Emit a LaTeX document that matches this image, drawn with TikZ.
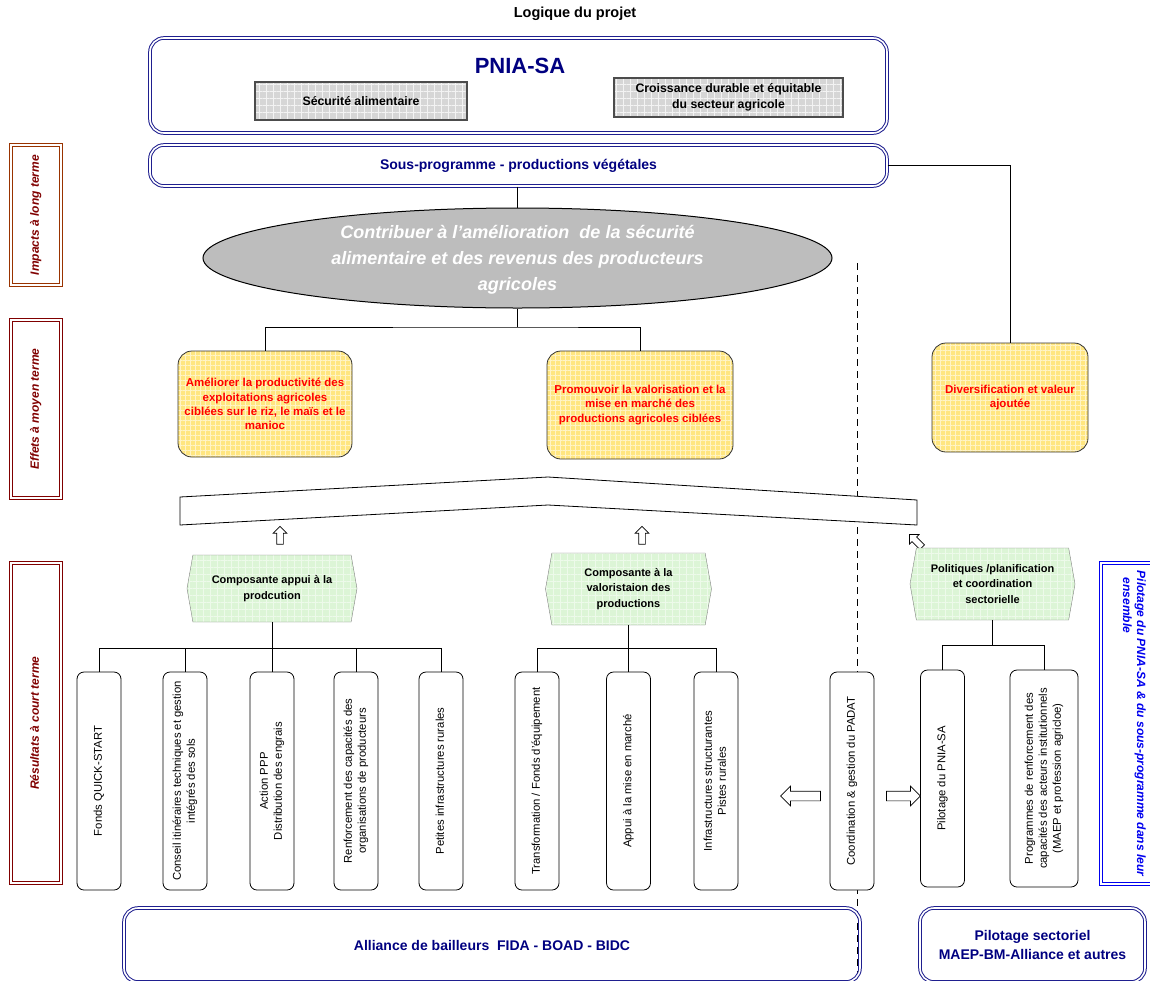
\documentclass[tikz,border=0pt]{standalone}
\usepackage{fontspec}
\setmainfont{Liberation Sans}
\usepackage{tikz}
\usetikzlibrary{shapes.geometric,shapes.symbols,shapes.arrows,patterns,patterns.meta}
\definecolor{pnavy}{HTML}{000080}
\definecolor{frameblue}{HTML}{1F1F8F}
\definecolor{sidered}{HTML}{800000}
\definecolor{sidebrown}{HTML}{993300}
\definecolor{pilblue}{HTML}{0000EE}
\definecolor{gridgray}{HTML}{D6D6D6}
\definecolor{goalgray}{HTML}{BDBDBD}
\definecolor{ylw}{HTML}{FFE680}
\definecolor{mint}{HTML}{DCF5D6}
\newcommand\fsz[2]{\fontsize{#1}{#2}\selectfont}
\newcommand\vtxt[2][90]{\rotatebox{#1}{\begin{tabular}{@{}c@{}}#2\end{tabular}}}

\begin{document}
\begin{tikzpicture}[x=1pt,y=-1pt,
 pbox/.style={draw=frameblue,double=white,double distance=1.6pt,line width=1pt,
 rounded corners=14pt,inner sep=0pt,align=center,text=pnavy,font=\fsz{14}{19}\bfseries},
 gbox/.style={draw=gray!60!black,line width=1.3pt,preaction={fill=gridgray},
 pattern={Hatch[distance=7pt,angle=0,line width=.5pt]},pattern color=white!70!gridgray,
 align=center,inner sep=0pt,font=\fsz{12.3}{16}\bfseries},
 goalshape/.style={ellipse,draw,line width=1pt,fill=goalgray,inner sep=0pt},
 goaltxt/.style={align=center,text=white,font=\fsz{18}{26}\bfseries\itshape},
 ybox/.style={draw=black!80,line width=.8pt,rounded corners=14pt,preaction={fill=ylw},
 pattern={Hatch[distance=5pt,angle=0,line width=.6pt]},pattern color=white!55!ylw,
 align=center,text=red,inner sep=0pt,font=\fsz{11.5}{14.3}\bfseries},
 cbox/.style={signal,signal to=west and east,signal pointer angle=160,draw=gray,
 preaction={fill=mint},pattern={Hatch[distance=7pt,angle=0,line width=.5pt]},
 pattern color=white!50!mint,align=center,inner sep=0pt,font=\fsz{11}{15.5}\bfseries},
 tallbox/.style={draw,line width=.8pt,rounded corners=7pt,fill=white,minimum width=44pt,
 minimum height=218pt,inner sep=0pt,font=\fsz{11.3}{14}},
 sidebox/.style={draw=sidered,double=white,double distance=1.6pt,line width=1pt,
 minimum width=50pt,inner sep=0pt,text=sidered,font=\fsz{12}{14}\bfseries\itshape},
 blk/.style={single arrow,draw,line width=.7pt,fill=white,single arrow head extend=3.5pt,
 inner sep=3pt,minimum height=18pt},
 link/.style={draw,line width=.8pt}]
\useasboundingbox (0,0) rectangle (1150,980);

\node[font=\fsz{14.5}{17}\bfseries] (title) at (575,14) {Logique du projet};

% PNIA-SA
\node[pbox,minimum width=737pt,minimum height=95pt] (pnia) at (518.5,85.5) {};
\node[font=\fsz{22}{26}\bfseries,text=pnavy] (pniat) at (520,66) {PNIA-SA};
\node[gbox,minimum width=212pt,minimum height=38pt] (secu) at (361,101) {Sécurité alimentaire};
\node[gbox,minimum width=229pt,minimum height=39pt] (crois) at (728.5,97.5)
 {Croissance durable et équitable\\du secteur agricole};
\node[pbox,minimum width=737pt,minimum height=41pt] (sousp) at (518.5,165.5)
 {Sous-programme - productions végétales};

% side labels
\node[sidebox,draw=sidebrown,minimum height=140pt] (impact) at (36,215) {\vtxt{Impacts à long terme}};
\node[sidebox,minimum height=178pt] (effet) at (36,409) {\vtxt{Effets à moyen terme}};
\node[sidebox,minimum height=320pt] (court) at (36,723) {\vtxt{Résultats à court terme}};
\node[sidebox,draw=pilblue,text=pilblue,minimum width=64pt,minimum height=321pt] (pilo) at (1133,723.5)
 {\rotatebox{-90}{\begin{tabular}{@{}l@{}}Pilotage du PNIA-SA \& du sous-programme dans leur\\\hspace*{7pt}ensemble\end{tabular}}};

% dashed separation
\coordinate (dtop) at (857,263);
\coordinate (dbot) at (857,980);
\draw[line width=1pt,dash pattern=on 7pt off 5pt] (dtop) -- (dbot);

% goal
\node[goalshape,minimum width=629pt,minimum height=100pt] (goal) at (517.5,258) {};
\node[goaltxt] (goalt) at (517.5,260) {Contribuer à l’amélioration \ de la sécurité\\
 alimentaire et des revenus des producteurs\\agricoles};
\draw[link] (sousp.south -| goal.north) -- (goal.north);

% effects
\node[ybox,minimum width=174pt,minimum height=106pt] (amel) at (265,404)
 {Améliorer la productivité des\\exploitations agricoles\\ciblées sur le riz, le maïs et le\\manioc};
\node[ybox,minimum width=186pt,minimum height=108pt] (promo) at (640,405)
 {Promouvoir la valorisation et la\\mise en marché des\\productions agricoles ciblées};
\node[ybox,minimum width=156pt,minimum height=109pt] (diver) at (1010,397.5)
 {Diversification et valeur\\ajoutée};
\coordinate (jg) at (517.5,327);
\draw[link] (goal.south) -- (jg);
\draw[link] (amel.north) |- (jg) -| (promo.north);
\draw[link] (sousp.east) -| (diver.north);

% band
\draw[line width=.8pt,fill=white] (180,497) -- (548,477) -- (917,500) -- (917,525)
 -- (548,505) -- (180,525) -- cycle;
\node[blk,rotate=90] (upa) at (280,537) {};
\node[blk,rotate=90] (upb) at (642,537) {};
\node[blk,rotate=135] (upc) at (917,542) {};

% components
\node[cbox,minimum width=170pt,minimum height=67pt] (compa) at (272,588.5)
 {Composante appui à la\\prodcution};
\node[cbox,minimum width=166pt,minimum height=72pt] (compb) at (628.5,589)
 {Composante à la\\valoristaion des\\productions};
\node[cbox,minimum width=165pt,minimum height=72pt] (compc) at (992.5,584)
 {Politiques /planification\\et coordination\\sectorielle};

% activities
\node[tallbox] (t1) at (99,781) {\vtxt{Fonds QUICK-START}};
\node[tallbox] (t2) at (185,781) {\vtxt{Conseil itinéraires techniques et gestion\\intégrés des sols}};
\node[tallbox] (t3) at (272,781) {\vtxt{Action PPP\\Distribution des engrais}};
\node[tallbox] (t4) at (356,781) {\vtxt{Renforcement des capacités des\\organisations de producteurs}};
\node[tallbox] (t5) at (441,781) {\vtxt{Petites infrastructures rurales}};
\node[tallbox] (t6) at (537,781) {\vtxt{Transformation / Fonds d'équipement}};
\node[tallbox] (t7) at (628.5,781) {\vtxt{Appui à la mise en marché}};
\node[tallbox] (t8) at (716,781) {\vtxt{Infrastructures structurantes\\Pistes rurales}};
\node[tallbox] (t9) at (852,781) {\vtxt{Coordination \& gestion du PADAT}};
\node[tallbox,minimum height=217pt] (t10) at (942.5,778.5) {\vtxt{Pilotage du PNIA-SA}};
\node[tallbox,minimum width=68pt,minimum height=217pt] (t11) at (1044,778.5)
 {\vtxt{Programmes de renforcement des\\capacités des acteurs institutionnels\\(MAEP et profession agricloe)}};

\coordinate (ja) at (272,648);
\draw[link] (compa.south) -- (ja);
\draw[link] (t1.north) |- (ja) -| (t5.north);
\foreach \n in {t2,t3,t4} \draw[link] (\n.north) -- (\n.north |- ja);
\coordinate (jb) at (628.5,648);
\draw[link] (compb.south) -- (jb);
\draw[link] (t6.north) |- (jb) -| (t8.north);
\draw[link] (t7.north) -- (jb);
\coordinate (jc) at (992.5,645);
\draw[link] (compc.south) -- (jc);
\draw[link] (t10.north) |- (jc) -| (t11.north);

\node[blk,rotate=180,minimum height=40pt,inner sep=4.5pt,single arrow head extend=5pt] (lefta) at (803,796) {};
\node[blk,minimum height=34pt,inner sep=4.5pt,single arrow head extend=5pt] (righta) at (901,796) {};

% partners
\node[pbox,minimum width=736pt,minimum height=74pt] (bail) at (492,945)
 {Alliance de bailleurs \ FIDA - BOAD - BIDC};
\node[pbox,minimum width=225pt,minimum height=74pt] (secto) at (1032.5,945)
 {Pilotage sectoriel\\MAEP-BM-Alliance et autres};
\end{tikzpicture}
\end{document}
